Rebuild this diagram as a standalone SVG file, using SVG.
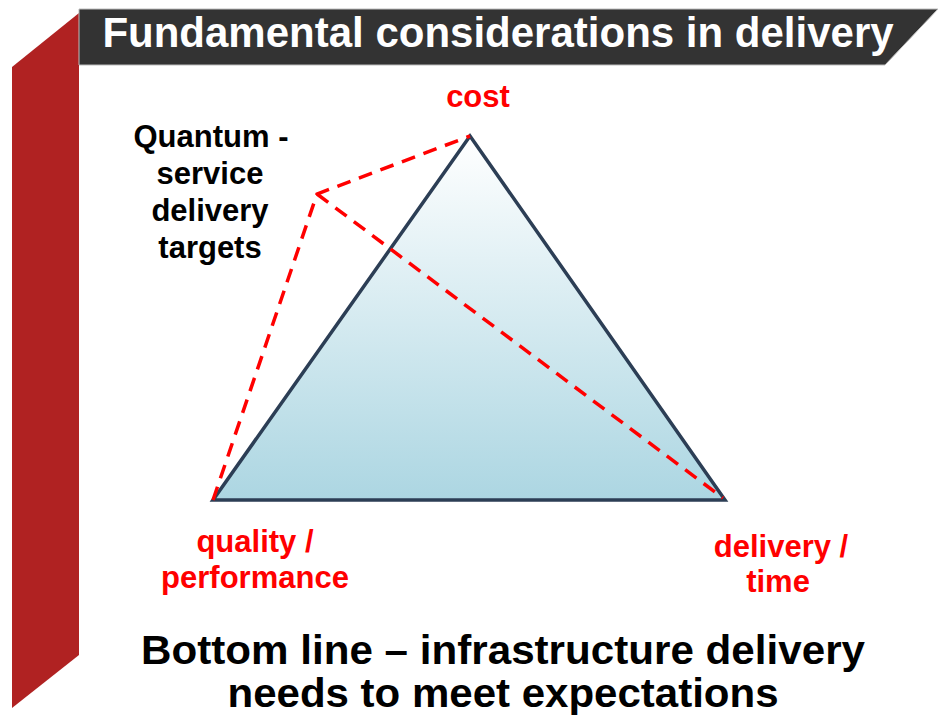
<svg xmlns="http://www.w3.org/2000/svg" width="940" height="719" viewBox="0 0 940 719">
  <style>
    .t { font-family: "Liberation Sans", Arial, sans-serif; font-weight: bold; text-anchor: middle; }
    .title { fill: #ffffff; font-size: 42px; }
    .vertex { fill: #ff0000; font-size: 31px; }
    .note { fill: #000000; font-size: 31px; }
    .bottom { fill: #000000; font-size: 40px; }
    .target { fill: none; stroke: #ff0000; stroke-width: 3.5; stroke-dasharray: 14 9; }
  </style>
  <defs>
    <linearGradient id="triFill" x1="0" y1="0" x2="0" y2="1">
      <stop offset="0" stop-color="#ffffff"/>
      <stop offset="1" stop-color="#acd6e2"/>
    </linearGradient>
  </defs>

  <rect width="940" height="719" fill="#ffffff"/>

  <!-- side band -->
  <g id="side-band">
    <polygon points="12,67 79,13 79,655 12,708" fill="#b02222"/>
  </g>

  <!-- header -->
  <g id="header">
    <polygon points="79,9 938,9 885,65 79,65" fill="#333333" stroke="#bdbdbd" stroke-width="1"/>
    <text class="t title" x="498" y="47">Fundamental considerations in delivery</text>
  </g>

  <!-- triangle -->
  <g id="triangle">
    <polygon points="470,136 213,500 725,500" fill="url(#triFill)" stroke="#2c3e55" stroke-width="3.5" stroke-linejoin="miter"/>
  </g>

  <!-- service delivery target lines -->
  <g id="connectors">
    <polyline class="target" points="213,500 317,194 470,136"/>
    <line class="target" x1="317" y1="194" x2="723" y2="498"/>
  </g>

  <g id="cost">
    <text class="t vertex" x="478" y="107">cost</text>
  </g>

  <g id="quality">
    <text class="t vertex" x="255" y="552">quality /</text>
    <text class="t vertex" x="255" y="588">performance</text>
  </g>

  <g id="delivery-time">
    <text class="t vertex" x="781" y="557">delivery /</text>
    <text class="t vertex" x="778" y="592">time</text>
  </g>

  <g id="quantum">
    <text class="t note" x="211" y="147">Quantum -</text>
    <text class="t note" x="210" y="184">service</text>
    <text class="t note" x="210" y="221">delivery</text>
    <text class="t note" x="210" y="258">targets</text>
  </g>

  <g id="bottom-line">
    <text class="t bottom" x="503" y="664" textLength="724" lengthAdjust="spacingAndGlyphs">Bottom line – infrastructure delivery</text>
    <text class="t bottom" x="503" y="707" textLength="551" lengthAdjust="spacingAndGlyphs">needs to meet expectations</text>
  </g>
</svg>
